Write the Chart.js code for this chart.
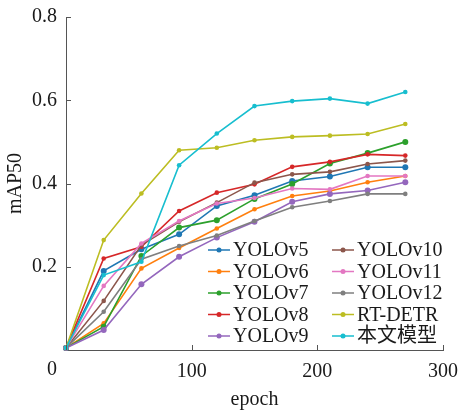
<!DOCTYPE html>
<html>
<head>
<meta charset="utf-8">
<script src="https://cdn.jsdelivr.net/npm/chart.js@4"></script>
<style>
  html, body { margin: 0; background: #fff; }
  #wrap { width: 460px; height: 413px; }
</style>
</head>
<body>
<div id="wrap"><canvas id="c"></canvas></div>
<script>
// values
const epochs = [0, 30, 60, 90, 120, 150, 180, 210, 240, 270]
const yolov5 = [0.005, 0.190, 0.242, 0.278, 0.346, 0.372, 0.406, 0.417, 0.439, 0.439]
const yolov6 = [0.005, 0.064, 0.196, 0.245, 0.292, 0.338, 0.370, 0.382, 0.403, 0.418]
const yolov7 = [0.005, 0.056, 0.226, 0.294, 0.312, 0.363, 0.399, 0.448, 0.473, 0.500]
const yolov8 = [0.005, 0.220, 0.248, 0.334, 0.378, 0.398, 0.440, 0.452, 0.470, 0.467]
const yolov9 = [0.005, 0.048, 0.158, 0.224, 0.270, 0.308, 0.356, 0.375, 0.383, 0.403]
const yolov10 = [0.005, 0.118, 0.252, 0.308, 0.354, 0.402, 0.422, 0.428, 0.447, 0.455]
const yolov11 = [0.005, 0.154, 0.256, 0.310, 0.352, 0.365, 0.388, 0.386, 0.418, 0.418]
const yolov12 = [0.005, 0.092, 0.218, 0.250, 0.275, 0.310, 0.343, 0.358, 0.375, 0.375]
const rtdetr = [0.005, 0.264, 0.376, 0.480, 0.486, 0.504, 0.512, 0.515, 0.519, 0.543]
const ours = [0.005, 0.180, 0.212, 0.444, 0.520, 0.586, 0.598, 0.604, 0.592, 0.620]

const names = ['YOLOv5', 'YOLOv6', 'YOLOv7', 'YOLOv8', 'YOLOv9',
  'YOLOv10', 'YOLOv11', 'YOLOv12', 'RT-DETR', '本文模型']
const series = [yolov5, yolov6, yolov7, yolov8, yolov9,
  yolov10, yolov11, yolov12, rtdetr, ours]
const colors = ['#1f77b4', '#ff7f0e', '#2ca02c', '#d62728', '#9467bd',
  '#8c564b', '#e377c2', '#7f7f7f', '#bcbd22', '#17becf']

const xTicks = [0, 100, 200, 300]
const yTicks = [0.2, 0.4, 0.6, 0.8]

const FONT = '"Liberation Serif", "Noto Sans CJK SC", serif'
const TEXT = '#1a1a1a'
const AXIS = '#555'

// ticks pointing into the plot, plus the shifted origin label
const innerTicks = {
  id: 'innerTicks',
  afterDraw (chart) {
    const { ctx, chartArea, scales } = chart
    ctx.save()
    ctx.strokeStyle = AXIS
    ctx.lineWidth = 1
    ctx.beginPath()
    scales.x.ticks.forEach(t => {
      const px = Math.round(scales.x.getPixelForValue(t.value)) + 0.5
      ctx.moveTo(px, chartArea.bottom)
      ctx.lineTo(px, chartArea.bottom - 5)
    })
    scales.y.ticks.forEach(t => {
      const py = Math.round(scales.y.getPixelForValue(t.value)) + 0.5
      ctx.moveTo(chartArea.left, py)
      ctx.lineTo(chartArea.left + 5, py)
    })
    ctx.stroke()
    ctx.fillStyle = TEXT
    ctx.font = '20px ' + FONT
    ctx.textAlign = 'center'
    ctx.textBaseline = 'top'
    ctx.fillText('0', scales.x.getPixelForValue(0) - 14, chartArea.bottom + 10)
    ctx.restore()
  }
}

// two-column legend in the lower right corner
const cornerLegend = {
  id: 'cornerLegend',
  afterDraw (chart) {
    const { ctx, chartArea } = chart
    ctx.save()
    ctx.font = '20px ' + FONT
    ctx.textBaseline = 'middle'
    ctx.textAlign = 'left'
    chart.data.datasets.forEach((ds, i) => {
      const col = Math.floor(i / 5)
      const row = i % 5
      const x = chartArea.left + 142 + col * 124
      const y = chartArea.top + 233 + row * 21.5
      ctx.strokeStyle = ds.borderColor
      ctx.lineWidth = 1.5
      ctx.beginPath()
      ctx.moveTo(x, y)
      ctx.lineTo(x + 22, y)
      ctx.stroke()
      ctx.fillStyle = ds.borderColor
      ctx.beginPath()
      ctx.arc(x + 11, y, 2.5, 0, Math.PI * 2)
      ctx.fill()
      ctx.fillStyle = TEXT
      ctx.fillText(ds.label, x + 25, y + 1)
    })
    ctx.restore()
  }
}

const datasets = series.map((vals, i) => ({
  label: names[i],
  data: vals.map((v, k) => ({ x: epochs[k], y: v })),
  borderColor: colors[i],
  backgroundColor: colors[i],
  borderWidth: 1.6,
  pointRadius: [0, 2, 4].includes(i) ? 3 : 2.3,
  pointBorderWidth: 0,
  tension: 0,
  clip: false,
  order: series.length - i
}))

new Chart(document.getElementById('c'), {
  type: 'line',
  data: { datasets },
  options: {
    responsive: true,
    maintainAspectRatio: false,
    animation: false,
    layout: { padding: { top: 17, right: 17, left: 0, bottom: 0 } },
    plugins: {
      legend: { display: false },
      tooltip: { enabled: false }
    },
    scales: {
      x: {
        type: 'linear',
        min: 0,
        max: 300,
        afterBuildTicks: scale => { scale.ticks = xTicks.map(v => ({ value: v })) },
        afterFit: scale => {
          scale.height = 63
          scale.paddingLeft = 0
          scale.paddingRight = 0
        },
        border: { color: AXIS, width: 1 },
        grid: { display: true, drawOnChartArea: false, drawTicks: false },
        ticks: {
          color: TEXT,
          font: { family: FONT, size: 20 },
          padding: 10,
          maxRotation: 0,
          callback: v => v === 0 ? '' : v
        },
        title: {
          display: true,
          text: 'epoch',
          color: TEXT,
          font: { family: FONT, size: 20 },
          padding: { top: 0, bottom: 1 }
        }
      },
      y: {
        min: 0,
        max: 0.8,
        afterBuildTicks: scale => { scale.ticks = yTicks.map(v => ({ value: v })) },
        afterFit: scale => {
          scale.width = 66
          scale.paddingTop = 0
          scale.paddingBottom = 0
        },
        border: { color: AXIS, width: 1 },
        grid: { display: true, drawOnChartArea: false, drawTicks: false },
        ticks: {
          color: TEXT,
          font: { family: FONT, size: 20 },
          padding: 9,
          callback: v => v.toFixed(1)
        },
        title: {
          display: true,
          text: 'mAP50',
          color: TEXT,
          font: { family: FONT, size: 20 },
          padding: { top: 4, bottom: 0 }
        }
      }
    }
  },
  plugins: [innerTicks, cornerLegend]
})
</script>
</body>
</html>
